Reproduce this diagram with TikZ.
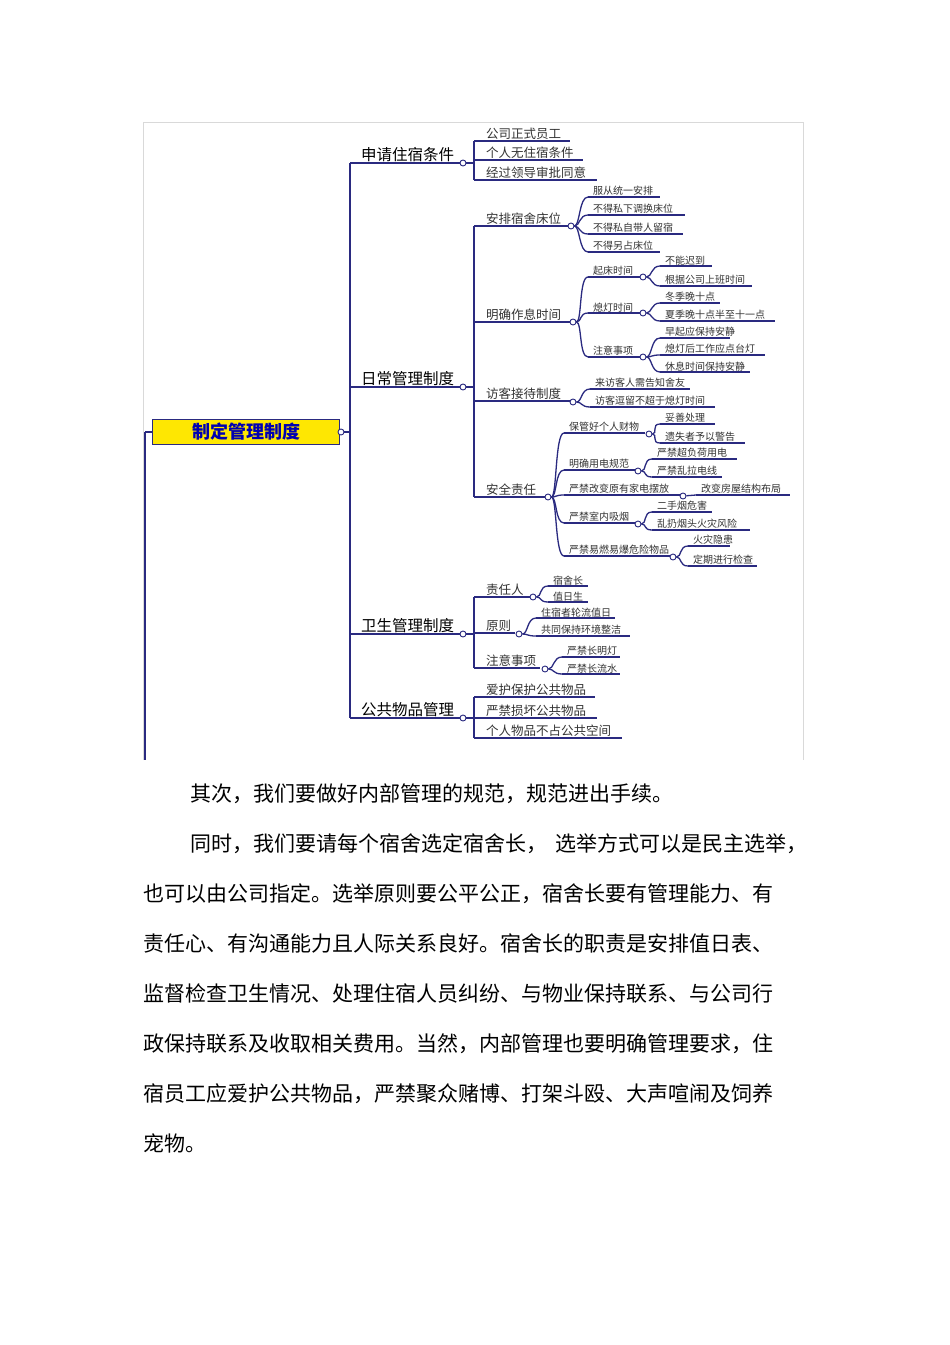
\documentclass[tikz,border=0pt]{standalone}
\usepackage{fontspec}
\newfontfamily\cjk{Noto Sans CJK SC}
\usetikzlibrary{calc}
\definecolor{nv}{HTML}{2A2A80}
\tikzset{br/.style={draw=nv,line width=1.3pt},
 dot/.style={circle,draw=nv,fill=white,line width=0.9pt,inner sep=0pt,minimum size=6pt},
 lbl/.style={font=\cjk\fontsize{10}{11}\selectfont,inner sep=1pt,text=black!80},
 lblb/.style={font=\cjk\fontsize{12.5}{14}\selectfont,inner sep=1pt,text=black!80},
 big/.style={font=\cjk\fontsize{15.5}{17}\selectfont,inner sep=1pt},
 para/.style={font=\cjk\fontsize{21}{23}\selectfont,anchor=base west,inner sep=0pt}}
\newcommand\ul[5]{\coordinate (#1s) at (#2,#3);\coordinate (#1e) at (#4,#3);
 \draw[br] (#1s) -- (#1e);\node[lbl,anchor=south west] (#1) at (#2+4,#3) {#5};}
\newcommand\ulb[5]{\coordinate (#1s) at (#2,#3);\coordinate (#1e) at (#4,#3);
 \draw[br] (#1s) -- (#1e);\node[lblb,anchor=south west] (#1) at (#2+11,#3) {#5};}
\newcommand\cv[2]{\draw[br] (#1) .. controls ($(#1)+(9,0)$) and ($(#2)+(-9,0)$) .. (#2);}
\begin{document}
\begin{tikzpicture}[x=1pt,y=-1pt]
\useasboundingbox[fill=white] (0,0) rectangle (950,1345);
\draw[black!15] (143,760) -- (143,122) -- (803,122) -- (803,760);
% root
\node[draw=nv,line width=1pt,fill=yellow!90!orange,minimum width=187pt,minimum height=25pt,font=\cjk\bfseries\fontsize{18}{20}\selectfont,text=blue!70!black] (root) at (246,432) {制定管理制度};
\node[dot] (rc) at (341,432) {};
\draw[br] (rc) -- (350,432);
\draw[br] (145,432) -- (145,760);
\draw[br] (root.west) -- (145,432);
\draw[br] (350,163) -- (350,718);
% main branches
\foreach \n/\y/\t in {m1/163/申请住宿条件,m2/387/日常管理制度,m3/634/卫生管理制度,m4/718/公共物品管理}{
 \draw[br] (350,\y) -- (463,\y);
 \node[big,anchor=south west] (\n) at (360,\y) {\t};
 \node[dot] (\n c) at (463,\y) {};
}
% m1
\draw[br] (m1c) -- (474,163);
\draw[br] (474,141) -- (474,180);
\ulb{a1}{474}{141}{570}{公司正式员工}
\ulb{a2}{474}{160}{583}{个人无住宿条件}
\ulb{a3}{474}{180}{597}{经过领导审批同意}
% m2
\draw[br] (m2c) -- (474,387);
\draw[br] (474,226) -- (474,497);
\ulb{b1}{474}{226}{568}{安排宿舍床位}
\node[dot] (b1c) at (571,226) {};
\ul{b11}{588}{197}{660}{服从统一安排}\cv{b1c}{b11s}
\ul{b12}{588}{215}{685}{不得私下调换床位}\cv{b1c}{b12s}
\ul{b13}{588}{234}{683}{不得私自带人留宿}\cv{b1c}{b13s}
\ul{b14}{588}{252}{660}{不得另占床位}\cv{b1c}{b14s}
\ulb{b2}{474}{322}{570}{明确作息时间}
\node[dot] (b2c) at (573,322) {};
\ul{b21}{588}{277}{640}{起床时间}\cv{b2c}{b21s}
\ul{b22}{588}{313}{640}{熄灯时间}\cv{b2c}{b22s}
\ul{b23}{588}{357}{640}{注意事项}\cv{b2c}{b23s}
\node[dot] (b21c) at (643,277) {};
\node[dot] (b22c) at (643,313) {};
\node[dot] (b23c) at (643,357) {};
\ul{c1}{660}{266}{712}{不能迟到}\cv{b21c}{c1s}
\ul{c2}{660}{286}{752}{根据公司上班时间}\cv{b21c}{c2s}
\ul{c3}{660}{303}{720}{冬季晚十点}\cv{b22c}{c3s}
\ul{c4}{660}{321}{775}{夏季晚十点半至十一点}\cv{b22c}{c4s}
\ul{c5}{660}{338}{730}{早起应保持安静}\cv{b23c}{c5s}
\ul{c6}{660}{355}{765}{熄灯后工作应点台灯}\cv{b23c}{c6s}
\ul{c7}{660}{372}{750}{休息时间保持安静}\cv{b23c}{c7s}
\ulb{b3}{474}{401}{570}{访客接待制度}
\node[dot] (b3c) at (573,402) {};
\ul{b31}{590}{389}{690}{来访客人需告知舍友}\cv{b3c}{b31s}
\ul{b32}{590}{407}{715}{访客逗留不超于熄灯时间}\cv{b3c}{b32s}
\ulb{b4}{474}{497}{545}{安全责任}
\node[dot] (b4c) at (548,497) {};
\ul{d1}{564}{433}{645}{保管好个人财物}\cv{b4c}{d1s}
\ul{d2}{564}{470}{635}{明确用电规范}\cv{b4c}{d2s}
\ul{d3}{564}{495}{680}{严禁改变原有家电摆放}\cv{b4c}{d3s}
\ul{d4}{564}{523}{635}{严禁室内吸烟}\cv{b4c}{d4s}
\ul{d5}{564}{556}{670}{严禁易燃易爆危险物品}\cv{b4c}{d5s}
\node[dot] (d1c) at (649,434) {};
\node[dot] (d2c) at (638,471) {};
\node[dot] (d3c) at (683,496) {};
\node[dot] (d4c) at (638,524) {};
\node[dot] (d5c) at (673,557) {};
\ul{e1}{660}{424}{715}{妥善处理}\cv{d1c}{e1s}
\ul{e2}{660}{443}{745}{遗失者予以警告}\cv{d1c}{e2s}
\ul{e3}{652}{459}{737}{严禁超负荷用电}\cv{d2c}{e3s}
\ul{e4}{652}{477}{722}{严禁乱拉电线}\cv{d2c}{e4s}
\ul{e5}{696}{495}{790}{改变房屋结构布局}\draw[br] (d3c) -- (e5s);
\ul{e6}{652}{512}{712}{二手烟危害}\cv{d4c}{e6s}
\ul{e7}{652}{530}{750}{乱扔烟头火灾风险}\cv{d4c}{e7s}
\ul{e8}{688}{546}{730}{火灾隐患}\cv{d5c}{e8s}
\ul{e9}{688}{566}{757}{定期进行检查}\cv{d5c}{e9s}
% m3
\draw[br] (m3c) -- (474,634);
\draw[br] (474,597) -- (474,668);
\ulb{f1}{474}{597}{530}{责任人}
\ulb{f2}{474}{633}{515}{原则}
\ulb{f3}{474}{668}{540}{注意事项}
\node[dot] (f1c) at (533,597) {};
\node[dot] (f2c) at (519,634) {};
\node[dot] (f3c) at (545,669) {};
\ul{g1}{548}{586}{588}{宿舍长}\cv{f1c}{g1s}
\ul{g2}{548}{602}{588}{值日生}\cv{f1c}{g2s}
\ul{g3}{536}{618}{615}{住宿者轮流值日}\cv{f2c}{g3s}
\ul{g4}{536}{636}{630}{共同保持环境整洁}\cv{f2c}{g4s}
\ul{g5}{562}{657}{620}{严禁长明灯}\cv{f3c}{g5s}
\ul{g6}{562}{674}{620}{严禁长流水}\cv{f3c}{g6s}
% m4
\draw[br] (m4c) -- (474,718);
\draw[br] (474,697) -- (474,738);
\ulb{h1}{474}{697}{595}{爱护保护公共物品}
\ulb{h2}{474}{718}{597}{严禁损坏公共物品}
\ulb{h3}{474}{738}{622}{个人物品不占公共空间}
% paragraphs
\node[para] (p1) at (190,801) {其次，我们要做好内部管理的规范，规范进出手续。};
\node[para] (p2) at (190,851) {同时，我们要请每个宿舍选定宿舍长，\hspace{8pt}选举方式可以是民主选举，};
\node[para] (p3) at (143,901) {也可以由公司指定。选举原则要公平公正，宿舍长要有管理能力、有};
\node[para] (p4) at (143,951) {责任心、有沟通能力且人际关系良好。宿舍长的职责是安排值日表、};
\node[para] (p5) at (143,1001) {监督检查卫生情况、处理住宿人员纠纷、与物业保持联系、与公司行};
\node[para] (p6) at (143,1051) {政保持联系及收取相关费用。当然，内部管理也要明确管理要求，住};
\node[para] (p7) at (143,1101) {宿员工应爱护公共物品，严禁聚众赌博、打架斗殴、大声喧闹及饲养};
\node[para] (p8) at (143,1151) {宠物。};
\end{tikzpicture}
\end{document}
